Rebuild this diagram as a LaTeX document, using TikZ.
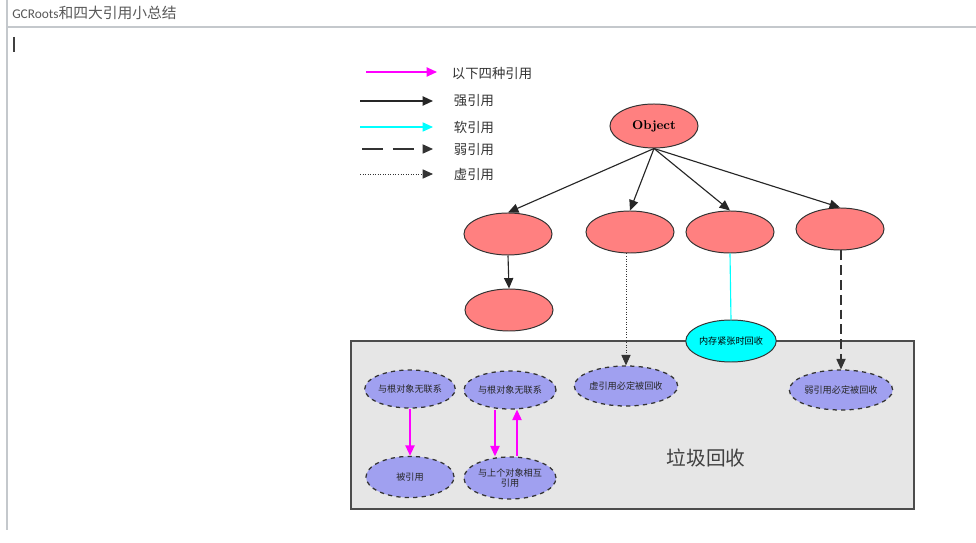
\documentclass[tikz,border=0pt]{standalone}
\usepackage{fontspec}
\setsansfont{Carlito}
\newfontfamily\cjkfont{Noto Sans CJK SC}
\usepackage{tikz}
\usetikzlibrary{shapes.geometric, arrows.meta, positioning}
\definecolor{objred}{HTML}{FF8080}
\definecolor{gcpurple}{HTML}{A0A0F0}
\definecolor{gcgrey}{HTML}{E6E6E6}
\definecolor{softcyan}{HTML}{00FFFF}
\definecolor{refmagenta}{HTML}{FF00FF}
\definecolor{rulegrey}{HTML}{C4C8CC}

\begin{document}
\begin{tikzpicture}[
    x=0.025cm, y=-0.025cm,
    tip/.style={-{Triangle[length=2.6mm, width=2.3mm]}},
    objnode/.style={ellipse, draw=black!80, line width=0.7pt, fill=objred, minimum width=2.2cm, minimum height=1.05cm, inner sep=0pt},
    softnode/.style={ellipse, draw=black!80, line width=0.7pt, fill=softcyan, minimum width=2.2cm, minimum height=1.05cm, inner sep=0pt, font=\cjkfont\fontsize{6.5}{7.5}\selectfont},
    gcnode/.style={ellipse, draw=black!80, fill=gcpurple, dashed, line width=0.9pt, minimum width=2.2cm, minimum height=0.95cm, inner sep=0pt, align=center, text=black!85, font=\cjkfont\fontsize{6.5}{7.5}\selectfont},
    legtext/.style={anchor=west, text=black!80, font=\cjkfont\fontsize{9.5}{10}\selectfont},
    strongref/.style={tip, line width=0.8pt, black!85},
    softref/.style={line width=0.8pt, softcyan},
    weakref/.style={tip, line width=0.8pt, black!80, dash pattern=on 7pt off 3.5pt},
    phantomref/.style={tip, line width=0.6pt, black!80, dash pattern=on 0.7pt off 1.1pt},
    linkref/.style={tip, line width=1.1pt, refmagenta},
]
\useasboundingbox[fill=white] (0,0) rectangle (976,543);

% page frame, title and cursor
\draw[rulegrey, line width=1pt] (7,0) -- (7,530);
\draw[rulegrey, line width=1pt] (7,27) -- (976,27);
\node[anchor=west, text=black!65, inner sep=0pt] (title) at (12,13)
    {{\sffamily\fontsize{9.5}{11}\selectfont GCRoots}{\cjkfont\fontsize{10.5}{12}\selectfont 和四大引用小总结}};
\draw[black!75, line width=0.8pt] (14,37) -- (14,52);

% legend
\coordinate (lg1a) at (366,72);  \coordinate (lg1b) at (437,72);
\coordinate (lg2a) at (360,101); \coordinate (lg2b) at (433,101);
\coordinate (lg3a) at (360,127); \coordinate (lg3b) at (433,127);
\coordinate (lg4a) at (362,149); \coordinate (lg4b) at (433,149);
\coordinate (lg5a) at (360,174); \coordinate (lg5b) at (433,174);
\node[legtext] (lg1) at (447,73) {以下四种引用};
\node[legtext] (lg2) at (449,101) {强引用};
\node[legtext] (lg3) at (449,127) {软引用};
\node[legtext] (lg4) at (449,150) {弱引用};
\node[legtext] (lg5) at (449,174) {虚引用};
\draw[linkref] (lg1a) -- (lg1b);
\draw[strongref, line width=1.2pt] (lg2a) -- (lg2b);
\draw[softref, tip] (lg3a) -- (lg3b);
\draw[tip, line width=0.8pt, black!80, dash pattern=on 15pt off 7pt] (lg4a) -- (lg4b);
\draw[phantomref] (lg5a) -- (lg5b);

% garbage collection area
\node[draw=black!70, line width=1.2pt, fill=gcgrey, minimum width=14.075cm, minimum height=4.2cm] (gcarea) at (632.5,425) {};
\node[text=black!75, font=\cjkfont\fontsize{14}{16}\selectfont] (gclabel) at (706,458) {垃圾回收};

% object graph
\node[objnode, minimum height=1.1cm, font=\bfseries\fontsize{9}{10}\selectfont] (object) at (654,126) {Object};
\node[objnode] (strong) at (508,234) {};
\node[objnode] (phantom) at (630,232) {};
\node[objnode] (soft) at (730,232) {};
\node[objnode] (weak) at (840,229) {};
\node[objnode] (child) at (509,310) {};
\node[softnode] (softgc) at (731,341) {内存紧张时回收};

% collected objects
\node[gcnode] (free1) at (410,389) {与根对象无联系};
\node[gcnode, minimum width=2.3cm] (free2) at (510,390) {与根对象无联系};
\node[gcnode, minimum height=1.03cm] (ref1) at (410,477) {被引用};
\node[gcnode, minimum width=2.3cm, minimum height=1.05cm] (ref2) at (510,478) {与上个对象相互\\引用};
\node[gcnode, minimum width=2.38cm, minimum height=1cm] (phantomgc) at (626,386) {虚引用必定被回收};
\node[gcnode, minimum width=2.4cm, minimum height=1cm] (weakgc) at (841,390) {弱引用必定被回收};

% references
\draw[strongref] (object.south) -- (strong.north);
\draw[strongref] (object.south) -- (phantom.north);
\draw[strongref] (object.south) -- (soft.north);
\draw[strongref] (object.south) -- (weak.north);
\draw[strongref] (strong.south) -- (child.north);
\draw[softref] (soft.south) -- (softgc.north);
\draw[phantomref] (phantomgc.north |- phantom.south) -- (phantomgc.north);
\draw[weakref] (weakgc.north |- weak.south) -- (weakgc.north);

% links inside the collected area
\draw[linkref] (free1.south) -- (ref1.north);
\draw[linkref] ([xshift=-0.375cm]free2.south) -- ([xshift=-0.375cm]ref2.north);
\draw[linkref] ([xshift=0.175cm]ref2.north) -- ([xshift=0.175cm]free2.south);

\end{tikzpicture}
\end{document}
